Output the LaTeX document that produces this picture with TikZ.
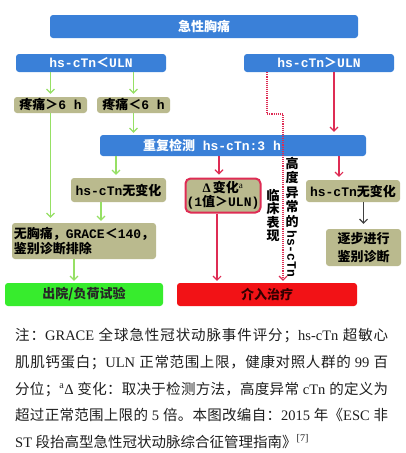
\documentclass[tikz,border=0pt]{standalone}
\usepackage{fontspec}
\setmainfont{Liberation Serif}
\newfontfamily\cjk{Noto Sans CJK SC}
\newfontfamily\mono{Liberation Mono}
\usetikzlibrary{arrows.meta,calc}
% stretchable glue between CJK characters (for justified caption lines)
\XeTeXinterchartokenstate=1
\newXeTeXintercharclass\cjkcls
\newcount\cc
\cc="3000 \loop \XeTeXcharclass\cc=\cjkcls \ifnum\cc<"303F \advance\cc by 1 \repeat
\cc="4E00 \loop \XeTeXcharclass\cc=\cjkcls \ifnum\cc<"9FFF \advance\cc by 1 \repeat
\cc="FF00 \loop \XeTeXcharclass\cc=\cjkcls \ifnum\cc<"FFEF \advance\cc by 1 \repeat
\XeTeXinterchartoks\cjkcls\cjkcls={\hskip0pt plus 2pt\relax}
\newcommand\myhan[1]{{\cjk\bfseries #1}}
\newcommand\mylat[1]{{\mono\bfseries #1}}
\definecolor{myblue}{RGB}{58,128,216}
\definecolor{myolive}{RGB}{186,186,142}
\definecolor{mygreen}{RGB}{150,224,100}
\definecolor{myred}{RGB}{222,44,84}
\definecolor{boxgreen}{RGB}{55,236,45}
\definecolor{boxred}{RGB}{242,18,22}
\definecolor{captext}{RGB}{30,30,30}
\tikzset{
  bx/.style={rounded corners=3pt, inner sep=0pt, font=\fontsize{13}{15}\selectfont},
  bluebox/.style={bx, fill=myblue, text=white},
  olbox/.style={bx, fill=myolive, text=black},
  arr/.style={line width=1.1pt, -{Straight Barb[length=4pt,width=8pt]}},
  garrow/.style={arr, draw=mygreen},
  rarrow/.style={arr, draw=myred},
  karrow/.style={arr, draw=black!75},
  capline/.style={anchor=base west, inner sep=0pt, text=captext, font=\fontsize{14.5}{16}\selectfont},
  vtext/.style={inner sep=0pt, align=center, text=black},
}
\begin{document}
\begin{tikzpicture}[x=1pt,y=-1pt]
\useasboundingbox[fill=white] (0,0) rectangle (405,453);

% boxes
\node[bluebox, minimum width=308pt, minimum height=23pt] (top) at (204,26.5) {\myhan{急性胸痛}};
\node[bluebox, minimum width=150pt, minimum height=18pt] (lt) at (91,63) {\mylat{hs-cTn}\myhan{＜}\mylat{ULN}};
\node[bluebox, minimum width=150pt, minimum height=18pt] (gt) at (319,63) {\mylat{hs-cTn}\myhan{＞}\mylat{ULN}};
\node[olbox, minimum width=73pt, minimum height=16pt] (p6) at (50.5,105) {\myhan{疼痛＞}\mylat{6 h}};
\node[olbox, minimum width=73pt, minimum height=16pt] (p6b) at (133.5,105) {\myhan{疼痛＜}\mylat{6 h}};
\node[bluebox, minimum width=266pt, minimum height=21pt] (rep) at (233,145.5)
  {\makebox[266pt][l]{\hspace*{43pt}\myhan{重复检测}\mylat{ hs-cTn:3 h}}};
\node[olbox, minimum width=95pt, minimum height=24pt] (ncl) at (118.5,190) {\mylat{hs-cTn}\myhan{无变化}};
\node[olbox, draw=myred, line width=2pt, rounded corners=5pt, minimum width=75pt, minimum height=34pt, align=center,
  font=\fontsize{13}{14}\selectfont] (delta) at (223,195.5)
  {{\rmfamily\bfseries Δ}\,\myhan{变化}\textsuperscript{\rmfamily a}\\\mylat{(1}\myhan{值＞}\mylat{ULN)}};
\node[olbox, minimum width=94pt, minimum height=22pt] (ncr) at (353,191) {\mylat{hs-cTn}\myhan{无变化}};
\node[olbox, minimum width=144pt, minimum height=36pt, align=left] (nopain) at (84,241)
  {\myhan{无胸痛，}\mylat{GRACE}\myhan{＜}\mylat{140}\myhan{，}\\\myhan{鉴别诊断排除}};
\node[olbox, minimum width=75pt, minimum height=37pt, align=center, font=\fontsize{13}{17.5}\selectfont] (step) at (363.5,247.5)
  {\myhan{逐步进行}\\\myhan{鉴别诊断}};
\node[bx, fill=boxgreen, text=black!85, minimum width=158pt, minimum height=23pt] (dis) at (84,294.5) {\myhan{出院/负荷试验}};
\node[bx, fill=boxred, text=black!80!red, minimum width=180pt, minimum height=23pt] (int) at (267,294.5) {\myhan{介入治疗}};

% vertical labels
\node[vtext, anchor=north, font=\fontsize{13}{13.4}\selectfont] (clin) at (273,189) {\myhan{临}\\\myhan{床}\\\myhan{表}\\\myhan{现}};
\node[vtext, anchor=north, font=\fontsize{13}{14.4}\selectfont] (high) at (292,157) {\myhan{高}\\\myhan{度}\\\myhan{异}\\\myhan{常}\\\myhan{的}};
\node[vtext, rotate=-90, anchor=west, font=\fontsize{13}{14}\selectfont] (hsv) at (292,230) {\mylat{hs-cTn}};

% connectors
\draw[garrow] (p6 |- lt.south) -- ([yshift=3pt]p6.north);
\draw[garrow] (p6b |- lt.south) -- ([yshift=3pt]p6b.north);
\draw[garrow] (p6.south) -- ([yshift=5pt]p6.south |- nopain.north);
\draw[garrow] (p6b.south) -- ([yshift=2pt]p6b.south |- rep.north);
\draw[garrow] ([xshift=-2.5pt]ncl.north |- rep.south) -- ([xshift=-2.5pt,yshift=3pt]ncl.north);
\draw[garrow] ([xshift=-17.5pt]ncl.south) -- ([xshift=-17.5pt,yshift=2pt]ncl.south |- nopain.north);
\draw[garrow] ([xshift=-10pt]nopain.south) -- ([xshift=-10pt,yshift=2pt]nopain.south |- dis.north);

\coordinate (dotbend) at (283,114);
\draw[myred, line width=1.1pt, densely dotted, -{Straight Barb[length=4pt,width=8pt]}]
  ([xshift=-52pt]gt.south) |- (dotbend) -- ([yshift=2pt]dotbend |- int.north);
\draw[rarrow] ([xshift=15pt]gt.south) -- ([xshift=15pt,yshift=3pt]gt.south |- rep.north);
\draw[rarrow] ([xshift=-4pt]delta.north |- rep.south) -- ([xshift=-4pt,yshift=3pt]delta.north);
\draw[rarrow] ([xshift=-6pt]delta.south) -- ([xshift=-6pt,yshift=2pt]delta.south |- int.north);
\draw[rarrow] ([xshift=-14pt]ncr.north |- rep.south) -- ([xshift=-14pt,yshift=3pt]ncr.north);
\draw[karrow] (step |- ncr.south) -- ([yshift=5pt]step.north);

% caption
\node[capline] (c1) at (15,340.5) {\hbox to 373pt{{\cjk 注：}GRACE {\cjk 全球急性冠状动脉事件评分；}hs-cTn {\cjk 超敏心}}};
\node[capline] (c2) at (15,367.5) {\hbox to 373pt{{\cjk 肌肌钙蛋白；}ULN {\cjk 正常范围上限，健康对照人群的} 99 {\cjk 百}}};
\node[capline] (c3) at (15,394) {\hbox to 373pt{{\cjk 分位；}\textsuperscript{a}Δ {\cjk 变化：取决于检测方法，高度异常} cTn {\cjk 的定义为}}};
\node[capline] (c4) at (15,420.5) {\hbox to 373pt{{\cjk 超过正常范围上限的} 5 {\cjk 倍。本图改编自：}2015 {\cjk 年《}ESC {\cjk 非}}};
\node[capline] (c5) at (15,447) {ST {\cjk 段抬高型急性冠状动脉综合征管理指南》}\textsuperscript{[7]}};
\end{tikzpicture}
\end{document}
